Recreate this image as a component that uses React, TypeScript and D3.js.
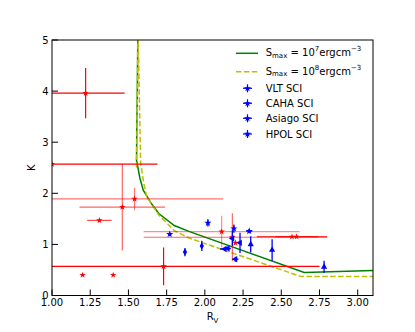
import React from "react";
import * as d3 from "d3";

const rvTicks = [1.0, 1.25, 1.5, 1.75, 2.0, 2.25, 2.5, 2.75, 3.0];
const kTicks = [0, 1, 2, 3, 4, 5];

// model curves (R_V, K)
const smax7Rv = [1.562, 1.558, 1.554, 1.553, 1.575, 1.597, 1.65, 1.7, 1.8, 1.9, 2.65, 3.1];
const smax7K = [5.3, 4.0, 3.0, 2.65, 2.3, 2.06, 1.8, 1.6, 1.37, 1.25, 0.45, 0.49];
const smax8Rv = [1.553, 1.558, 1.563, 1.572, 1.58, 1.6, 1.62, 1.7, 1.8, 1.9, 2.63, 3.1];
const smax8K = [2.5, 3.8, 5.2, 3.8, 2.6, 2.2, 1.93, 1.57, 1.27, 1.12, 0.37, 0.37];

// red points: [rv, k, xerrLow, xerrHigh, yerr, alpha]
const redPoints = [
  [1.22, 3.96, 0.255, 0.255, 0.49, 1],
  [1.0, 2.57, 0.69, 0.69, 0, 1],
  [1.46, 1.73, 0.28, 0.28, 0.85, 0.6],
  [1.54, 1.89, 0.58, 0.58, 0.22, 0.55],
  [1.31, 1.47, 0.08, 0.08, 0, 0.7],
  [1.2, 0.4, 0, 0, 0, 1],
  [1.4, 0.4, 0, 0, 0, 1],
  [1.73, 0.57, 1.02, 1.02, 0.37, 1],
  [2.11, 1.25, 0.51, 0.51, 0.31, 0.45],
  [2.18, 1.14, 0.58, 0.62, 0.47, 0.6],
  [2.2, 1.03, 0, 0, 0, 1],
  [2.57, 1.15, 0.23, 0.23, 0, 1],
  [2.6, 1.15, 0.14, 0.14, 0, 1],
];

// blue points: [rv, k, xerr, yerr]
const vltPoints = [
  [1.77, 1.2, 0.01, 0.04],
  [2.02, 1.42, 0.01, 0.07],
  [2.19, 1.31, 0.01, 0.08],
  [2.29, 1.26, 0.02, 0.04],
];
const cahaPoints = [
  [1.87, 0.85, 0.01, 0.08],
  [1.98, 0.97, 0.01, 0.1],
];
const asiagoPoints = [
  [2.13, 0.91, 0.03, 0.01],
  [2.15, 0.92, 0.02, 0.01],
  [2.18, 1.12, 0.01, 0.15],
  [2.2, 0.71, 0.02, 0.05],
  [2.23, 1.03, 0.01, 0.2],
];
const hpolPoints = [
  [2.3, 1.0, 0.0, 0.16],
  [2.44, 0.89, 0.0, 0.21],
  [2.78, 0.56, 0.0, 0.12],
];

const W = 415;
const H = 332;
const m = { left: 52, right: 373, top: 40, bottom: 295.5 };
const font = "DejaVu Sans, sans-serif";

const x = d3.scaleLinear().domain([1.0, 3.1]).range([m.left, m.right]);
const y = d3.scaleLinear().domain([0, 5]).range([m.bottom, m.top]);

function curvePath(rv: number[], k: number[]) {
  const pts: [number, number][] = rv.map((r, i) => [x(r), y(k[i])]);
  return d3.line()(pts) || "";
}

const redStar = d3.symbol().type(d3.symbolStar).size(13)() || "";
const star = d3.symbol().type(d3.symbolStar).size(16)() || "";
const diamond = d3.symbol().type(d3.symbolDiamond).size(15)() || "";
const tri = d3.symbol().type(d3.symbolTriangle).size(17)() || "";

function BlueSeries({ pts, shape, rot }: { pts: number[][]; shape: string; rot: number }) {
  return (
    <g>
      {pts.map((p, i) => (
        <g key={i}>
          <line x1={x(p[0] - p[2])} x2={x(p[0] + p[2])} y1={y(p[1])} y2={y(p[1])} stroke="#0000ff" strokeWidth={1.3} />
          <line x1={x(p[0])} x2={x(p[0])} y1={y(p[1] - p[3])} y2={y(p[1] + p[3])} stroke="#0000ff" strokeWidth={1.3} />
          <path d={shape} transform={`translate(${x(p[0])},${y(p[1])}) rotate(${rot})`} fill="#0000ff" />
        </g>
      ))}
    </g>
  );
}

function SmaxLabel({ xx, yy, exp }: { xx: number; yy: number; exp: string }) {
  return (
    <text x={xx} y={yy} fontSize={10} fontFamily={font} dominantBaseline="middle">
      <tspan>S</tspan>
      <tspan fontSize={7} dy={2.5}>max</tspan>
      <tspan dy={-2.5}>{" = 10"}</tspan>
      <tspan fontSize={7} dy={-4}>{exp}</tspan>
      <tspan dy={4}>ergcm</tspan>
      <tspan fontSize={7} dy={-4}>−3</tspan>
    </text>
  );
}

export default function App() {
  const legendBlue = ["VLT SCI", "CAHA SCI", "Asiago SCI", "HPOL SCI"];
  const blueRows = [88.3, 103.3, 118.3, 134];

  return (
    <svg width={W} height={H} style={{ position: "absolute", left: 0, top: 0, background: "#fff" }}>
      <defs>
        <clipPath id="plot">
          <rect x={m.left} y={m.top} width={m.right - m.left} height={m.bottom - m.top} />
        </clipPath>
      </defs>
      <g clipPath="url(#plot)">
        <path d={curvePath(smax7Rv, smax7K)} fill="none" stroke="#008000" strokeWidth={1.5} />
        <path d={curvePath(smax8Rv, smax8K)} fill="none" stroke="#bfbf00" strokeWidth={1.5} strokeDasharray="5.5,2.4" />
        {redPoints.map((p, i) => (
          <g key={i} opacity={p[5]}>
            {p[2] + p[3] > 0 && (
              <line x1={x(p[0] - p[2])} x2={x(p[0] + p[3])} y1={y(p[1])} y2={y(p[1])} stroke="#ff0000" strokeWidth={1.2} />
            )}
            {p[4] > 0 && (
              <line x1={x(p[0])} x2={x(p[0])} y1={y(p[1] - p[4])} y2={y(p[1] + p[4])} stroke="#ff0000" strokeWidth={1.2} />
            )}
          </g>
        ))}
        {redPoints.map((p, i) => (
          <path key={i} d={redStar} transform={`translate(${x(p[0])},${y(p[1])})`} fill="#ff0000" />
        ))}
        <BlueSeries pts={vltPoints} shape={star} rot={0} />
        <BlueSeries pts={cahaPoints} shape={diamond} rot={0} />
        <BlueSeries pts={asiagoPoints} shape={tri} rot={-90} />
        <BlueSeries pts={hpolPoints} shape={tri} rot={0} />
      </g>

      {/* axes frame */}
      <rect x={m.left} y={m.top} width={m.right - m.left} height={m.bottom - m.top} fill="none" stroke="#000" strokeWidth={1} />

      {rvTicks.map((t) => (
        <g key={t}>
          <line x1={x(t)} x2={x(t)} y1={m.bottom} y2={m.bottom - 6} stroke="#000" strokeWidth={1} />
          <text x={x(t)} y={m.bottom + 10.5} fontSize={10} fontFamily={font} textAnchor="middle">
            {t.toFixed(2)}
          </text>
        </g>
      ))}
      {kTicks.map((t) => (
        <g key={t}>
          <line x1={m.left} x2={m.left + 6} y1={y(t)} y2={y(t)} stroke="#000" strokeWidth={1} />
          <text x={m.left - 3.5} y={y(t)} fontSize={10} fontFamily={font} textAnchor="end" dominantBaseline="central">
            {t}
          </text>
        </g>
      ))}

      <text x={(m.left + m.right) / 2} y={320} fontSize={10} fontFamily={font} textAnchor="middle">
        R<tspan fontSize={7} dy={2.5}>V</tspan>
      </text>
      <text transform={`translate(35,${(m.top + m.bottom) / 2}) rotate(-90)`} fontSize={10} fontFamily={font} textAnchor="middle">
        K
      </text>

      {/* legend */}
      <line x1={236} x2={258} y1={53.3} y2={53.3} stroke="#008000" strokeWidth={1.5} />
      <SmaxLabel xx={265.7} yy={53.3} exp="7" />
      <line x1={236} x2={258} y1={71.7} y2={71.7} stroke="#bfbf00" strokeWidth={1.5} strokeDasharray="5.5,2.4" />
      <SmaxLabel xx={265.7} yy={71.7} exp="8" />
      {legendBlue.map((label, i) => (
        <g key={label}>
          <line x1={243} x2={252} y1={blueRows[i]} y2={blueRows[i]} stroke="#0000ff" strokeWidth={1.2} />
          <line x1={247.5} x2={247.5} y1={blueRows[i] - 4} y2={blueRows[i] + 4} stroke="#0000ff" strokeWidth={1.2} />
          <path d={star} transform={`translate(247.5,${blueRows[i]})`} fill="#0000ff" />
          <text x={265.7} y={blueRows[i]} fontSize={10} fontFamily={font} dominantBaseline="central">
            {label}
          </text>
        </g>
      ))}
    </svg>
  );
}
